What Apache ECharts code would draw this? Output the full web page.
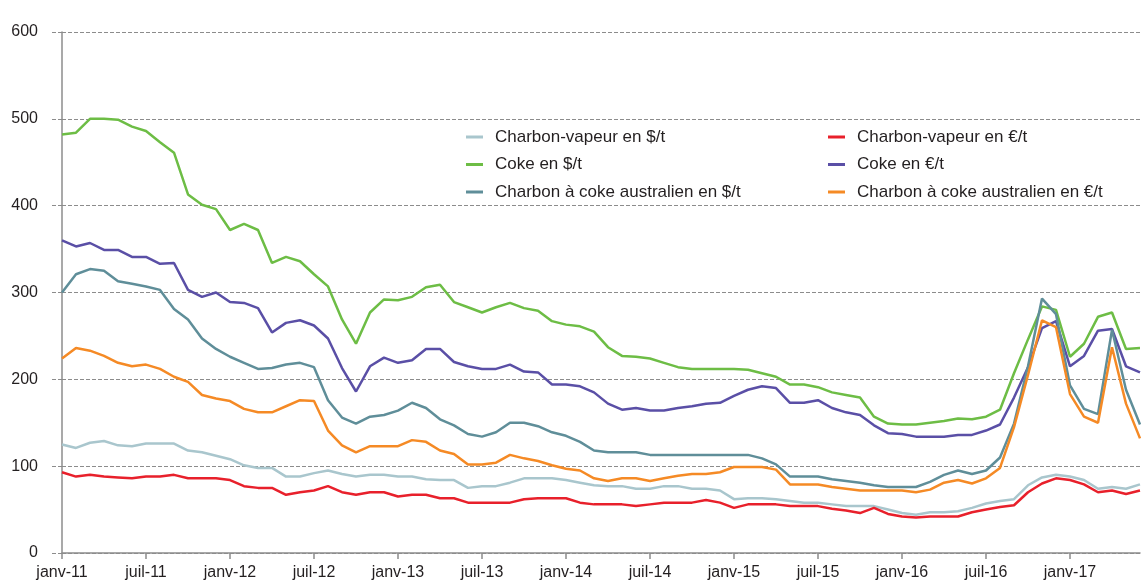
<!DOCTYPE html>
<html>
<head>
<meta charset="utf-8">
<script src="https://cdn.jsdelivr.net/npm/echarts@6/dist/echarts.min.js"></script>
<style>
  html, body { margin: 0; padding: 0; background: #fff; }
  #chart { width: 1145px; height: 586px; }
</style>
</head>
<body>
<div id="chart"></div>
<script>
// month labels, janv-11 .. juin-17
const monthNames = ['janv','févr','mars','avr','mai','juin','juil','août','sept','oct','nov','déc'];
const years = ['11','12','13','14','15','16','17'];
const categories = [];
years.forEach(function(y){
  monthNames.forEach(function(m){ categories.push(m + '-' + y); });
});
categories.length = 78;

const vapeurUsd = [125,121,127,129,124,123,126,126,126,118,116,112,108,101,98,98,88,88,92,95,
  91,88,90,90,88,88,85,84,84,75,77,77,81,86,86,86,84,81,78,77,77,74,74,77,77,74,74,72,62,63,
  63,62,60,58,58,56,54,54,54,50,46,44,47,47,48,52,57,60,62,78,87,90,88,84,74,76,74,79];
const vapeurEur = [93,88,90,88,87,86,88,88,90,86,86,86,84,77,75,75,67,70,72,77,
  70,67,70,70,65,67,67,63,63,58,58,58,58,62,63,63,63,58,56,56,56,54,56,58,58,58,61,58,52,56,
  56,56,54,54,54,51,49,46,52,45,42,41,42,42,42,47,50,53,55,70,80,86,84,79,70,72,68,72];
const cokeUsd = [482,484,500,500,499,491,486,473,461,413,401,396,372,379,372,334,341,336,321,307,
  269,241,277,292,291,295,306,309,289,283,277,283,288,282,279,267,263,261,255,237,227,226,224,219,214,212,212,212,212,211,
  207,203,194,194,191,185,182,179,157,149,148,148,150,152,155,154,157,165,207,246,284,280,226,241,272,277,235,236];
const cokeEur = [360,353,357,349,349,341,341,333,334,303,295,300,289,288,282,254,265,268,262,247,
  213,186,215,225,219,222,235,235,220,215,212,212,217,209,208,194,194,192,185,172,165,167,164,164,167,169,172,173,181,188,
  192,190,173,173,176,167,162,159,147,138,137,134,134,134,136,136,141,148,179,214,259,267,215,227,256,258,215,208];
const ausUsd = [300,321,327,325,313,310,307,303,281,269,247,235,226,219,212,213,217,219,214,176,
  156,149,157,159,164,173,167,154,147,137,134,139,150,150,146,139,135,128,118,116,116,116,113,113,113,113,113,113,113,113,
  109,102,88,88,88,85,83,81,78,76,76,76,82,90,95,91,95,110,149,215,293,275,193,166,160,257,188,148];
const ausEur = [224,236,233,227,219,215,217,212,203,197,182,178,175,166,162,162,169,176,175,141,
  124,116,123,123,123,130,128,118,114,102,102,104,113,109,106,101,97,95,86,83,86,86,83,86,89,91,91,93,99,99,
  99,96,79,79,79,76,74,72,72,72,72,70,73,81,84,80,86,98,145,205,268,260,183,157,150,237,172,132];

const yTicks = [0, 100, 200, 300, 400, 500, 600];

const seriesDefs = [
  { name: 'Charbon-vapeur en $/t', data: vapeurUsd, color: '#a9c6cd' },
  { name: 'Charbon-vapeur en €/t', data: vapeurEur, color: '#e8202b' },
  { name: 'Coke en $/t', data: cokeUsd, color: '#6dbd45' },
  { name: 'Coke en €/t', data: cokeEur, color: '#5a4fa6' },
  { name: 'Charbon à coke australien en $/t', data: ausUsd, color: '#5f8e99' },
  { name: 'Charbon à coke australien en €/t', data: ausEur, color: '#f58a25' }
];

const font = '"Liberation Sans", Arial, sans-serif';
const legendText = { fontFamily: font, fontSize: 17, color: '#231f20', lineHeight: 18, padding: [0, 0, 0, 7] };

const chart = echarts.init(document.getElementById('chart'));
chart.setOption({
  backgroundColor: '#fff',
  animation: false,
  grid: { left: 62, right: 5, top: 32, bottom: 33 },
  legend: [
    {
      left: 466, top: 128, orient: 'vertical', padding: 0, itemGap: 9.5,
      icon: 'rect', itemWidth: 17, itemHeight: 3,
      data: [seriesDefs[0].name, seriesDefs[2].name, seriesDefs[4].name],
      textStyle: legendText
    },
    {
      left: 828, top: 128, orient: 'vertical', padding: 0, itemGap: 9.5,
      icon: 'rect', itemWidth: 17, itemHeight: 3,
      data: [seriesDefs[1].name, seriesDefs[3].name, seriesDefs[5].name],
      textStyle: legendText
    }
  ],
  xAxis: {
    type: 'category',
    data: categories,
    boundaryGap: false,
    axisLine: { lineStyle: { color: '#8c8c8c', width: 1.5 } },
    axisTick: { interval: 5, length: 6, lineStyle: { color: '#8c8c8c', width: 1.5 } },
    axisLabel: { interval: 5, margin: 12, fontFamily: font, fontSize: 16, color: '#231f20' },
    splitLine: { show: false }
  },
  yAxis: {
    type: 'value',
    min: yTicks[0],
    max: yTicks[yTicks.length - 1],
    interval: 100,
    axisLine: { show: true, lineStyle: { color: '#8c8c8c', width: 1.5 } },
    axisTick: { show: true, length: 12, lineStyle: { color: '#8c8c8c', type: 'dashed' } },
    axisLabel: {
      margin: 24, fontFamily: font, fontSize: 16, color: '#231f20',
      verticalAlign: 'middle', padding: [0, 0, 11, 0]
    },
    splitLine: { lineStyle: { color: '#8c8c8c', type: [4, 2], width: 1 } }
  },
  series: seriesDefs.map(function(s){
    return {
      name: s.name,
      type: 'line',
      data: s.data,
      symbol: 'none',
      lineStyle: { width: 2.5, color: s.color },
      itemStyle: { color: s.color }
    };
  })
});
</script>
</body>
</html>
